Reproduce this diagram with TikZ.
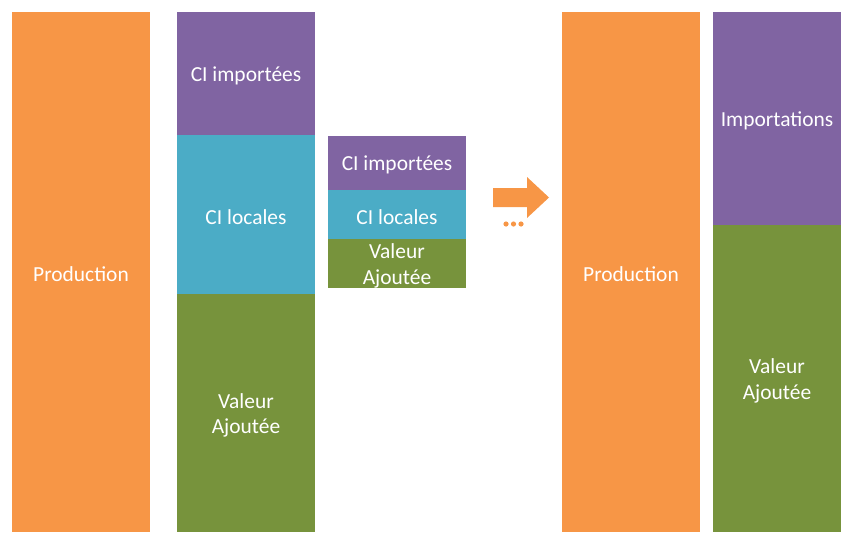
\documentclass[tikz,border=0pt]{standalone}
\usepackage{fontspec}
\setmainfont{Carlito}
\usepackage{tikz}
\usetikzlibrary{positioning}
\definecolor{prodorange}{HTML}{F79646}
\definecolor{civiolet}{HTML}{8064A2}
\definecolor{cicyan}{HTML}{4BACC6}
\definecolor{vagreen}{HTML}{77933C}

\begin{document}
\begin{tikzpicture}[x=0.03cm, y=-0.03cm,
  lbl/.style={text=white, align=center, yshift=-2pt,
    font=\fontsize{18.3}{22}\selectfont},
]
\useasboundingbox (0,0) rectangle (841,532);

% production
\fill[prodorange] (12,12) rectangle node[lbl] (P1) {Production} (150,532);

% decomposition
\fill[civiolet] (177,12) rectangle node[lbl] (CIM) {CI importées} (315,135);
\fill[cicyan] (177,135) rectangle node[lbl] (CL) {CI locales} (315,294);
\fill[vagreen] (177,294) rectangle node[lbl] (VA) {Valeur\\Ajoutée} (315,532);

% small copy
\fill[civiolet] (328,136) rectangle node[lbl] (cim) {CI importées} (466,190);
\fill[cicyan] (328,190) rectangle node[lbl] (cl) {CI locales} (466,239);
\fill[vagreen] (328,239) rectangle node[lbl] (va) {Valeur\\Ajoutée} (466,288);

% arrow and dots
\fill[prodorange] (493,188) -- (527,188) -- (527,177) -- (549,197.5)
  -- (527,218) -- (527,207) -- (493,207) -- cycle;
\foreach \x in {506,513.5,521}
  \fill[prodorange] (\x,224) circle (2.6);

% after
\fill[prodorange] (562,12) rectangle node[lbl] (P2) {Production} (700,532);
\fill[civiolet] (713,12) rectangle node[lbl] (IMP) {Importations} (841,225);
\fill[vagreen] (713,225) rectangle node[lbl] (VA2) {Valeur\\Ajoutée} (841,532);
\end{tikzpicture}
\end{document}
